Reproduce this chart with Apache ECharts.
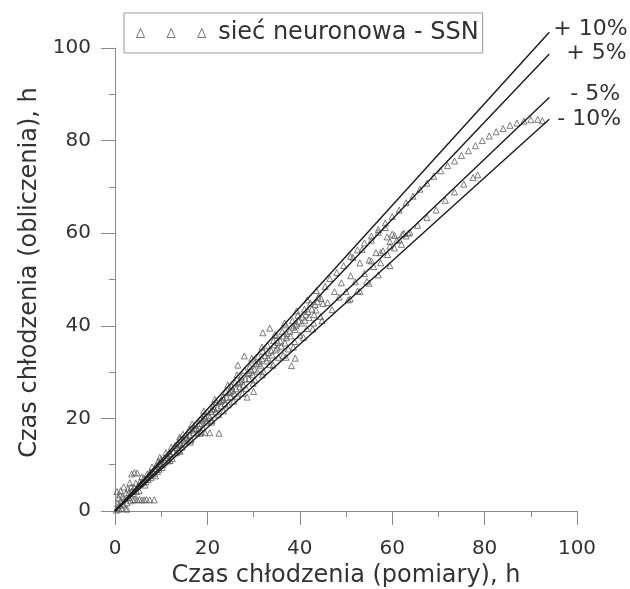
<!DOCTYPE html>
<html>
<head>
<meta charset="utf-8">
<script src="https://cdn.jsdelivr.net/npm/echarts@6/dist/echarts.min.js"></script>
<style>html,body{margin:0;padding:0;background:#fff;}#c{width:630px;height:589px;}</style>
</head>
<body>
<div id="c"></div>
<script>
// Axis settings
const axisMin = 0, axisMax = 100, axisStep = 20;
const xTitle = 'Czas chłodzenia (pomiary), h';
const yTitle = 'Czas chłodzenia (obliczenia), h';
const seriesName = 'sieć neuronowa - SSN';

// Tolerance lines (end points)
const bandLabels = ['+ 10%', '+ 5%', '- 5%', '- 10%'];
const bandEndX = [94, 94, 94, 94];
const bandEndY = [103.4, 98.7, 89.3, 84.6];

// SSN points [measured, computed] — dense band near origin up to ~45 h
const denseBand = [
[0.3,0.2],[0.5,0.8],[0.6,1.6],[0.8,2.8],[0.9,0.4],[1.0,3.6],[1.1,1.2],[1.2,4.4],[1.3,2.1],[1.5,0.6],
[1.6,3.1],[1.8,1.5],[1.9,5.2],[2.1,2.6],[2.3,0.5],[2.4,3.9],[2.6,1.8],[2.8,4.8],[3.0,2.9],[3.2,6.1],
[3.4,2.2],[3.6,4.3],[3.9,2.4],[4.3,2.5],[4.8,2.4],[5.3,2.5],[5.8,2.4],[6.3,2.4],[6.8,2.5],[7.5,2.4],
[8.5,2.4],[2.6,0.4],[0.4,4.2],[3.6,8.0],[4.2,8.3],[4.8,8.2],
[3,4],[3.5,5.2],[4,3.8],[4.5,6],[5,5.5],[5.2,4.4],[5.8,7.4],[6,6.2],[6.5,5.6],[7,8],[7.2,6.8],[7.8,7.2],
[8,9.5],[8.3,8],[8.8,7.6],[9,10],[9.5,9],[10,11.2],[10.2,9.4],[10.8,10.6],[11,12.6],[11.5,10.8],[12,12.3],
[12.4,11.3],[13,14.2],[13.3,12.6],[13.8,13.1],[14,15.5],[14.5,13.8],[15,14.6],[15.3,16.4],[15.8,15.2],
[16,17.6],[16.5,15.4],[17,17],[17.4,18.6],[17.8,16.8],[18,18.4],[18.5,19.8],[19,18],[19.3,20.5],[19.8,19.2],
[20,21.4],[20.5,20.2],[21,19.6],[21.2,22.6],[21.8,21.4],[22,23.5],[22.4,20.8],[23,22.7],[23.3,24.6],
[23.8,23.2],[24,25.8],[24.5,22.9],[25,24.7],[25.2,26.9],[25.8,25.4],[26,27.8],[26.5,24.8],[27,26.8],
[27.3,29],[27.8,27.2],[28,30.4],[28.4,26.5],[29,28.6],[29.2,31.2],[29.8,29.4],[30,32.6],[30.3,28.3],
[30.8,30.2],[31,33.4],[31.5,31.5],[32,34.5],[32.2,30.1],[32.8,32.4],[33,35.8],[33.5,31.6],[34,33.7],
[34.3,36.8],[34.8,34.8],[35,37.9],[35.4,33.2],[36,35.6],[36.2,38.8],[36.8,36.3],[37,40.2],[37.5,35],
[38,37.8],[38.4,41.1],[38.9,36.6],[39,39.2],[39.6,42.3],[40,38],[40.4,40.6],[41,43.6],[41.5,39.4],
[42,41.8],[42.3,44.9],[43,40.6],[43.5,43.4],[44,46.2],[44.5,42],[45,44.8],
[4.2,5.1],[4.7,4.2],[5.4,6.3],[6.2,7.1],[6.7,6.3],[7.4,7.9],[8.1,8.6],[8.6,9.2],[9.2,8.5],[9.8,10.3],
[10.4,10.1],[11.2,11.5],[11.8,12.4],[12.6,12.8],[13.5,13.7],[14.2,14.4],[14.8,15.3],[15.6,16],[16.2,16.4],
[16.8,17.5],[17.6,17.9],[18.3,18.9],[18.9,19.5],[19.6,20.1],[20.3,20.6],[20.8,21.5],[21.5,22.1],[22.2,22.3],
[22.8,23.7],[23.5,24.1],[24.2,24.5],[24.8,25.6],[25.5,26.1],[26.2,26.4],[26.8,27.6],[27.5,28.3],[28.2,28.5],
[28.8,29.7],[29.5,30.4],[30.2,30.6],[30.6,31.8],[31.3,32.4],[31.8,32.9],[32.5,33.6],[33.2,34.2],[33.8,34.6],
[34.5,35.9],[35.2,36.4],[35.8,36.7],[36.5,37.8],[37.2,38.3],[37.8,38.8],[38.6,39.7],[39.3,40.4],[39.8,41],
[40.6,41.9],[41.3,42.4],[41.8,43.1],[42.6,43.6],[43.3,44.6],[43.8,45.2],[44.6,45.9],
[18.4,16.8],[19.5,16.9],[20.5,16.9],[22.5,16.8],[14,16],[26.6,31.5],[28,33.5],[32,38.5],[33.5,39.5],
[37,33.2],[38.2,31.4],[39,33],[28.6,24.6],[30,25.8],
[5.6,5.9],[7.6,8.4],[9.4,10.8],[11.4,12],[13.6,14.6],[15.5,15.8],[17.2,17.8],[19.1,19.9],[21.1,21.9],
[23.1,23.9],[25.1,25.9],[27.1,27.9],[29.1,29.9],[31.1,31.9],[33.1,33.1],[35.1,35.2],[37.1,37.4],[39.1,40],
[41.1,41.2],[43.1,42.4],
[9.7,11.6],[12.2,13.8],[14.7,16.6],[16.7,18.8],[19.2,21.6],[21.6,24.1],[24.4,27.2],[26.4,29.4],[29.6,33],
[31.8,35.4],[34.6,38.1],[36.7,40.6],[39.3,43.2],[41.6,45.6],[43.6,47.6],
[11.9,10.9],[14.1,12.9],[16.3,14.9],[18.7,17.1],[20.9,19.2],[23.5,21.6],[25.7,23.7],[27.6,25.4],[29.9,27.6],
[31.9,29.4],[34.2,31.5],[36.4,33.6],[38.6,35.4],[40.8,37.5],[42.8,39.3],[44.8,41.1]
];

// SSN points between ~45 and ~65 h
const middleBand = [
[45.5,48.5],[46,45],[46.5,50.2],[47,43.5],[47.5,47.4],[48,51.5],[48.5,46.2],[49,49.3],[49.5,53],[50,47.4],
[50.5,45.6],[51,50.8],[51.5,54.8],[52,49.5],[52.5,47.5],[53,53.6],[53.5,56.5],[54,51.3],[54.5,49.6],
[55,54.2],[55.5,58.5],[56,52.8],[56.5,55.8],[57,60.2],[57.5,53.6],[58,56.2],[58.5,61.2],[59,55.4],
[59.5,58.2],[60,59.8],[60.5,56.8],[61,58.5],[62,57.6],[62.5,60],[63,59.4],[63.8,60.2],
[58.9,59.2],[60.5,59.5],[62.2,59.8]
];

// Upper branch of sparse points (bends towards 85 h)
const upperBranch = [
[51,55],[52.5,56.4],[54,57.9],[55.5,59.4],[57,60.8],[58.5,62.2],[60,63.6],[61.5,65],[63,66.6],
[64.5,68],[66,69.5],[67.5,70.8],[69,72.3],[70.5,73.5],[72,74.6],[73.5,75.6],[75,76.8],[76.5,77.8],
[78,78.9],[79.5,80],[81,81],[82.5,81.9],[84,82.6],[85.5,83.3],[87,83.8],[88.5,84.2],[90,84.5],
[91.5,84.6],[92.5,84.3]
];

// Lower sparse branches (near -5% and -10% lines)
const lowerBranch = [
[55.5,54],[57.5,55.8],[59.5,57.2],[61.5,58.6],[63.5,60],[65.5,61.7],[67.5,63.4],[69.5,65],[71.5,67.1],
[73.5,68.9],[75.5,70.6],[77.5,72],[78.5,72.6],
[50.9,45.8],[53,47.4],[55,49.2],[57,51],[59.5,53]
];

const ssnPoints = denseBand.concat(middleBand, upperBranch, lowerBranch);

const FONT = 'DejaVu Sans';
const TXT = '#333';
const AX = '#8a8a8a';

const chart = echarts.init(document.getElementById('c'), null, {renderer: 'canvas'});

const lineOffsets = [[-4, -3], [9, -1], [13, -3], [0, 0]];

const bandSeries = bandLabels.map((lab, i) => ({
  name: lab,
  type: 'line',
  data: [[0, 0], [bandEndX[i], bandEndY[i]]],
  showSymbol: false,
  symbol: 'none',
  silent: true,
  clip: false,
  lineStyle: {color: '#1a1a1a', width: 1.4},
  endLabel: {
    show: true,
    formatter: '{a}',
    fontFamily: FONT,
    fontSize: 22,
    color: TXT,
    offset: lineOffsets[i]
  },
  z: 3
}));

const option = {
  animation: false,
  backgroundColor: '#fff',
  grid: {left: 115, right: 53, top: 48, bottom: 78, containLabel: false, outerBoundsMode: 'none'},
  legend: {
    data: [seriesName],
    left: 124,
    top: 13,
    orient: 'horizontal',
    backgroundColor: '#fff',
    borderColor: '#9a9a9a',
    borderWidth: 1,
    padding: [8, 4, 8, 12],
    itemWidth: 84,
    itemHeight: 9,
    icon: 'path://M0,10L4.5,0L9,10Z M34,10L38.5,0L43,10Z M68,10L72.5,0L77,10Z',
    itemStyle: {color: 'transparent', borderColor: '#555', borderWidth: 1},
    textStyle: {fontFamily: FONT, fontSize: 24, color: TXT}
  },
  xAxis: {
    type: 'value',
    min: axisMin, max: axisMax, interval: axisStep,
    name: xTitle,
    nameLocation: 'middle',
    nameGap: 53,
    nameTextStyle: {fontFamily: FONT, fontSize: 24, color: TXT},
    axisLine: {show: true, lineStyle: {color: AX, width: 1}},
    axisTick: {show: true, inside: false, length: 14, lineStyle: {color: AX}},
    minorTick: {show: true, splitNumber: 2, length: 6, lineStyle: {color: AX}},
    axisLabel: {fontFamily: FONT, fontSize: 20, color: TXT, margin: 28},
    splitLine: {show: false}
  },
  yAxis: {
    type: 'value',
    min: axisMin, max: axisMax, interval: axisStep,
    name: yTitle,
    nameLocation: 'middle',
    nameGap: 71,
    nameRotate: 90,
    nameTextStyle: {fontFamily: FONT, fontSize: 24, color: TXT, padding: [0, 0, 0, 14]},
    axisLine: {show: true, lineStyle: {color: AX, width: 1}},
    axisTick: {show: true, inside: false, length: 14, lineStyle: {color: AX}},
    minorTick: {show: true, splitNumber: 2, length: 6, lineStyle: {color: AX}},
    axisLabel: {fontFamily: FONT, fontSize: 20, color: TXT, margin: 24},
    splitLine: {show: false}
  },
  series: [
    {
      name: seriesName,
      type: 'scatter',
      data: ssnPoints,
      symbol: 'triangle',
      symbolSize: 6,
      itemStyle: {color: 'transparent', borderColor: '#5e5e5e', borderWidth: 1},
      z: 2
    }
  ].concat(bandSeries)
};

chart.setOption(option);
</script>
</body>
</html>
